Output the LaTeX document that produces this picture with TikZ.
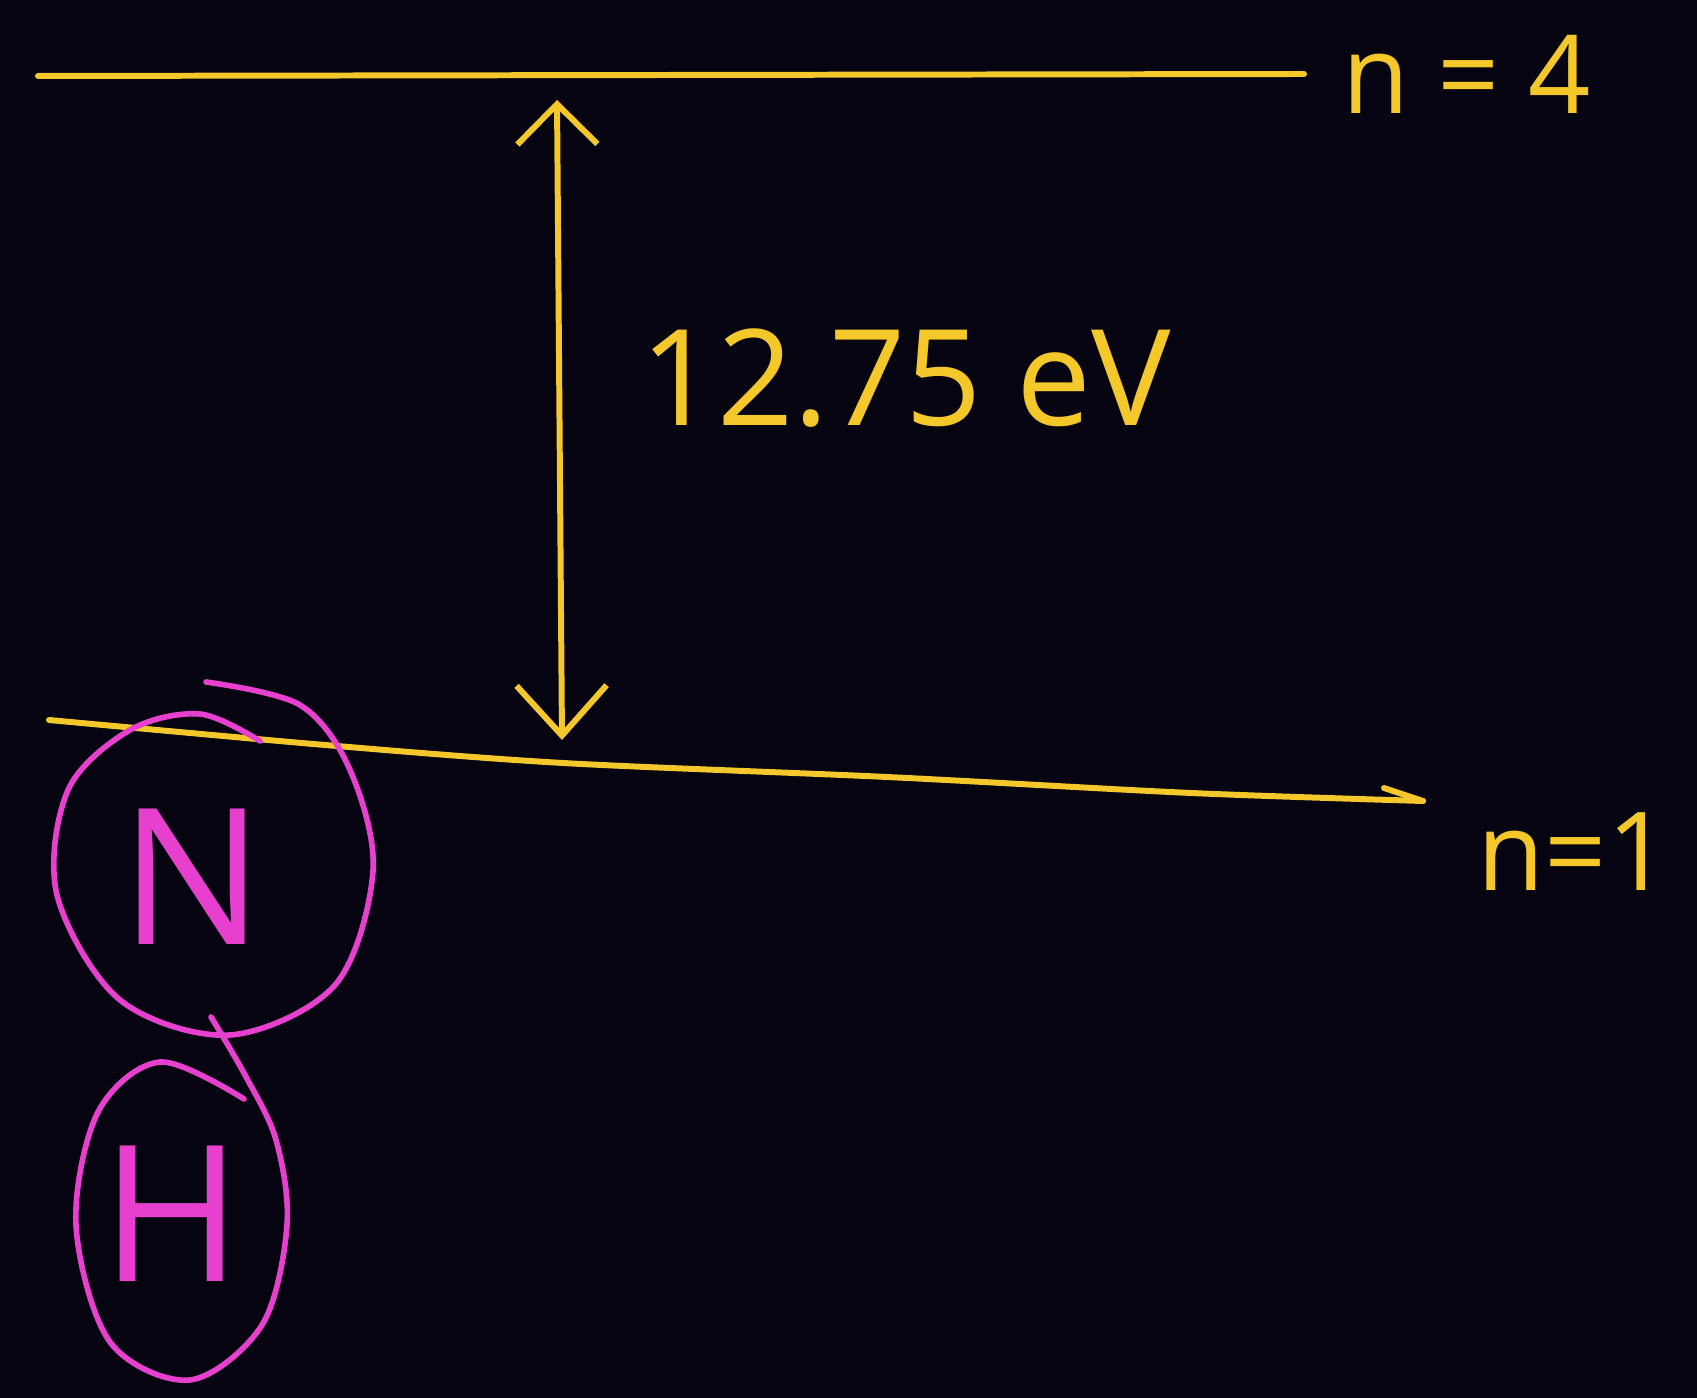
\documentclass[tikz,border=0pt]{standalone}
\usepackage{fontspec}
\setmainfont{Open Sans}
\usepackage{xcolor}
\usetikzlibrary{arrows.meta}

\definecolor{board}{RGB}{5,4,16}
\definecolor{chalkyellow}{RGB}{244,200,42}
\definecolor{chalkpink}{RGB}{232,64,206}

\begin{document}
\begin{tikzpicture}[x=0.01cm,y=-0.01cm,
    enline/.style={draw=chalkyellow, line width=1.7pt, line cap=round, line join=round},
    gap/.style={enline, {Straight Barb[length=4mm,width=8mm]}-{Straight Barb[length=5mm,width=9mm]}},
    ink/.style={text=chalkyellow, inner sep=0pt, font=\fontsize{31}{38}\selectfont},
    ring/.style={draw=chalkpink, line width=1.6pt, line cap=round},
    atom/.style={text=chalkpink, inner sep=0pt, font=\fontsize{54}{60}\selectfont}]
            \fill[board] (0,0) rectangle (1697,1398);
            \useasboundingbox (0,0) rectangle (1697,1398);
            % levels
            \coordinate (fourL) at (38,76);
            \coordinate (fourR) at (1304,74);
            \draw[enline] (fourL) -- (fourR);
            \node[ink, anchor=base west] (nfour) at (1342,114) {n = 4};
            \coordinate (oneL) at (49,720);
            \coordinate (oneR) at (1423,801);
            \draw[enline] plot[smooth] coordinates {(oneL) (325,745) (563,763) (887,777) (1191,793) (oneR)};
            \draw[enline] (oneR) -- (1384,788);
            \node[ink, anchor=base west] (none) at (1477,890) {n=1};
            % gap
            \coordinate (up) at (557,100);
            \coordinate (down) at (562,740);
            \draw[gap] (up) -- (down);
            \node[ink, font=\fontsize{38}{46}\selectfont] (energy) at (906,378) {12.75 eV};
            % atoms
            \node[atom] (nitro) at (192,877) {N};
            \node[atom] (hydro) at (172,1214) {H};
            \draw[ring] plot[smooth, tension=0.55] coordinates {(206,682) (300,705) (350,770) (373,871) (335,985) (230,1035) (120,1000) (57,895) (68,790) (130,730) (200,714) (260,741)};
            \draw[ring] plot[smooth, tension=0.55] coordinates {(211,1017) (245,1075) (276,1140) (287,1225) (262,1325) (190,1380) (110,1342) (76,1225) (98,1112) (160,1062) (244,1099)};
        \end{tikzpicture}
\end{document}
